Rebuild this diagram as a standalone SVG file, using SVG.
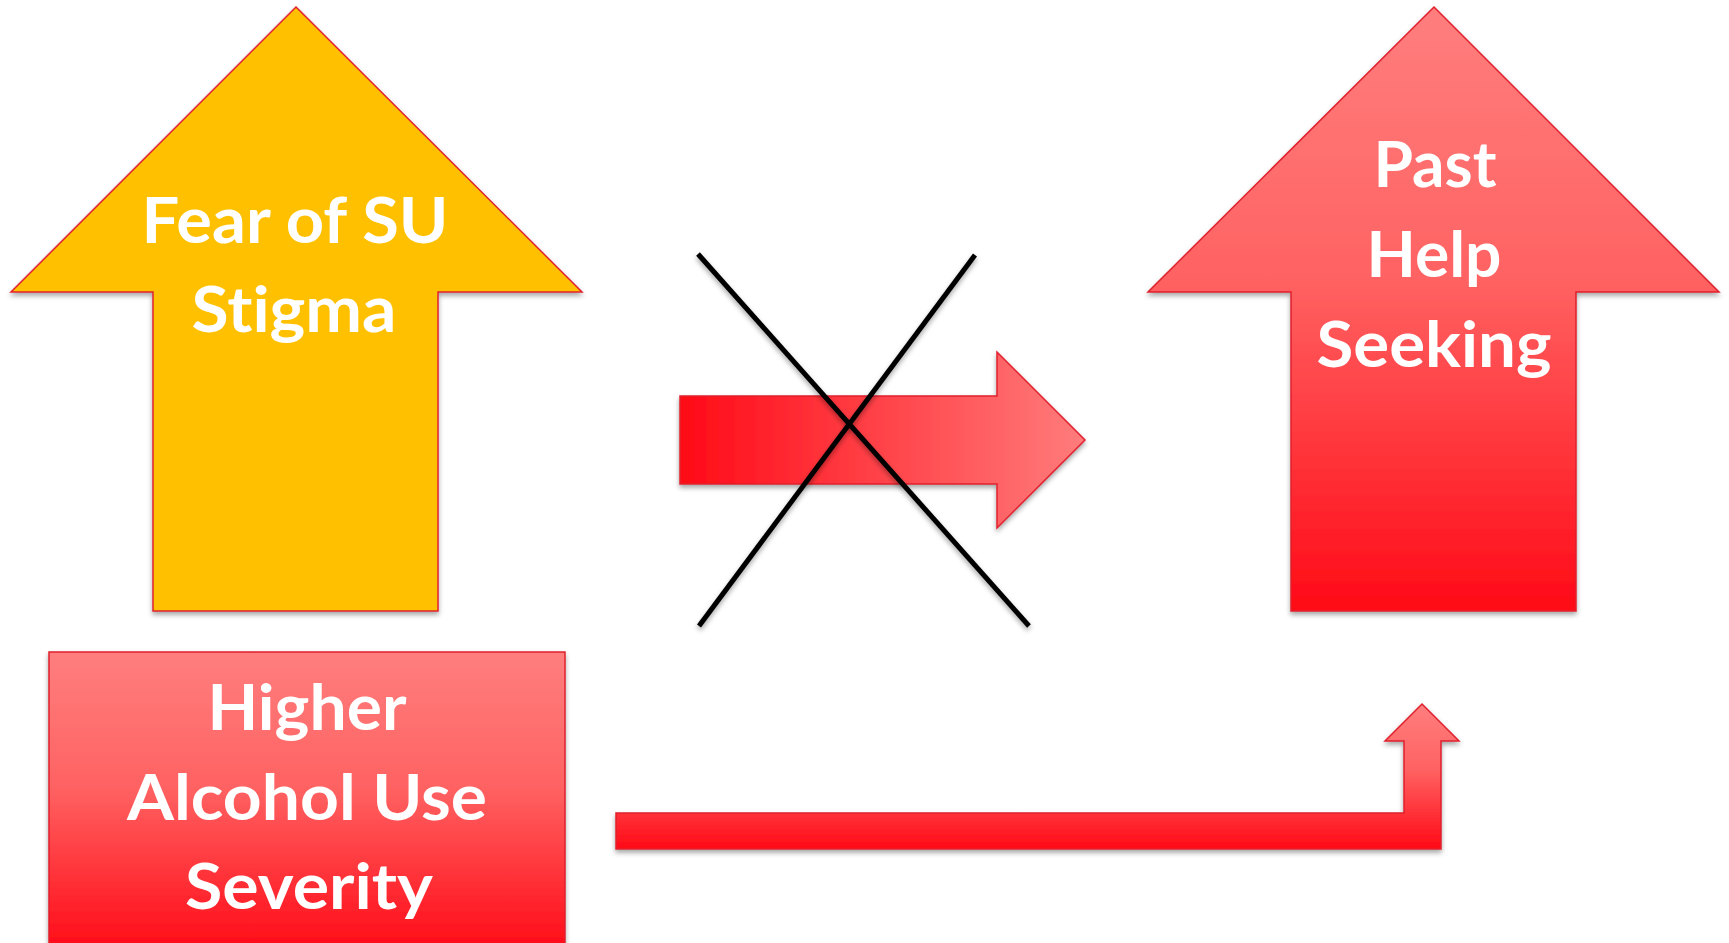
<svg xmlns="http://www.w3.org/2000/svg" width="1729" height="943" viewBox="0 0 1729 943">
<style>
.lbl{font-family:Lato,"Open Sans","Liberation Sans",sans-serif;font-weight:bold;font-size:64px;fill:#ffffff;text-anchor:middle;font-variant-ligatures:none;font-feature-settings:"liga" 0}
.shape{stroke:#E0202E;stroke-width:1.5;stroke-linejoin:miter}
.xline{stroke:#000;stroke-width:5;fill:none}
</style>
<defs>
<linearGradient id="gv" x1="0" y1="0" x2="0" y2="1">
<stop offset="0" stop-color="#FF7E7E"/>
<stop offset="0.45" stop-color="#FF6262"/>
<stop offset="1" stop-color="#FF0A16"/>
</linearGradient>
<linearGradient id="gh" x1="0" y1="0" x2="1" y2="0">
<stop offset="0" stop-color="#FF0A16"/>
<stop offset="1" stop-color="#FF7C7C"/>
</linearGradient>
<filter id="sh" x="-10%" y="-10%" width="120%" height="130%">
<feDropShadow dx="0" dy="3" stdDeviation="2.5" flood-color="#000" flood-opacity="0.35"/>
</filter>
</defs>
<rect width="1729" height="943" fill="#ffffff"/>
<g id="node-fear">
<polygon class="shape" filter="url(#sh)" fill="#FFC000" points="296,7 582,292 438,292 438,611 153,611 153,292 11,292"/>
<text class="lbl" x="295" y="243" textLength="307" lengthAdjust="spacingAndGlyphs">Fear of SU</text>
<text class="lbl" x="294" y="332" textLength="205" lengthAdjust="spacingAndGlyphs">Stigma</text>
</g>
<g id="node-help">
<polygon class="shape" filter="url(#sh)" fill="url(#gv)" points="1434,7 1719,292 1576,292 1576,611 1291,611 1291,292 1148,292"/>
<text class="lbl" x="1435" y="187" textLength="123" lengthAdjust="spacingAndGlyphs">Past</text>
<text class="lbl" x="1434" y="277" textLength="135" lengthAdjust="spacingAndGlyphs">Help</text>
<text class="lbl" x="1434" y="367" textLength="235" lengthAdjust="spacingAndGlyphs">Seeking</text>
</g>
<g id="node-alcohol">
<rect class="shape" filter="url(#sh)" fill="url(#gv)" x="49" y="652" width="516" height="300"/>
<text class="lbl" x="307" y="730" textLength="199" lengthAdjust="spacingAndGlyphs">Higher</text>
<text class="lbl" x="307" y="820" textLength="360" lengthAdjust="spacingAndGlyphs">Alcohol Use</text>
<text class="lbl" x="309" y="909" textLength="248" lengthAdjust="spacingAndGlyphs">Severity</text>
</g>
<g id="connectors">
<polygon class="shape" filter="url(#sh)" fill="url(#gh)" points="680,396 997,396 997,352 1085,440 997,528 997,484 680,484"/>
<line class="xline" filter="url(#sh)" x1="698" y1="254" x2="1029" y2="626"/>
<line class="xline" filter="url(#sh)" x1="975" y1="255" x2="699" y2="626"/>
<polygon class="shape" filter="url(#sh)" fill="url(#gv)" points="616,813 1404,813 1404,741 1385,741 1422,704 1459,741 1441,741 1441,849 616,849"/>
</g>
</svg>
